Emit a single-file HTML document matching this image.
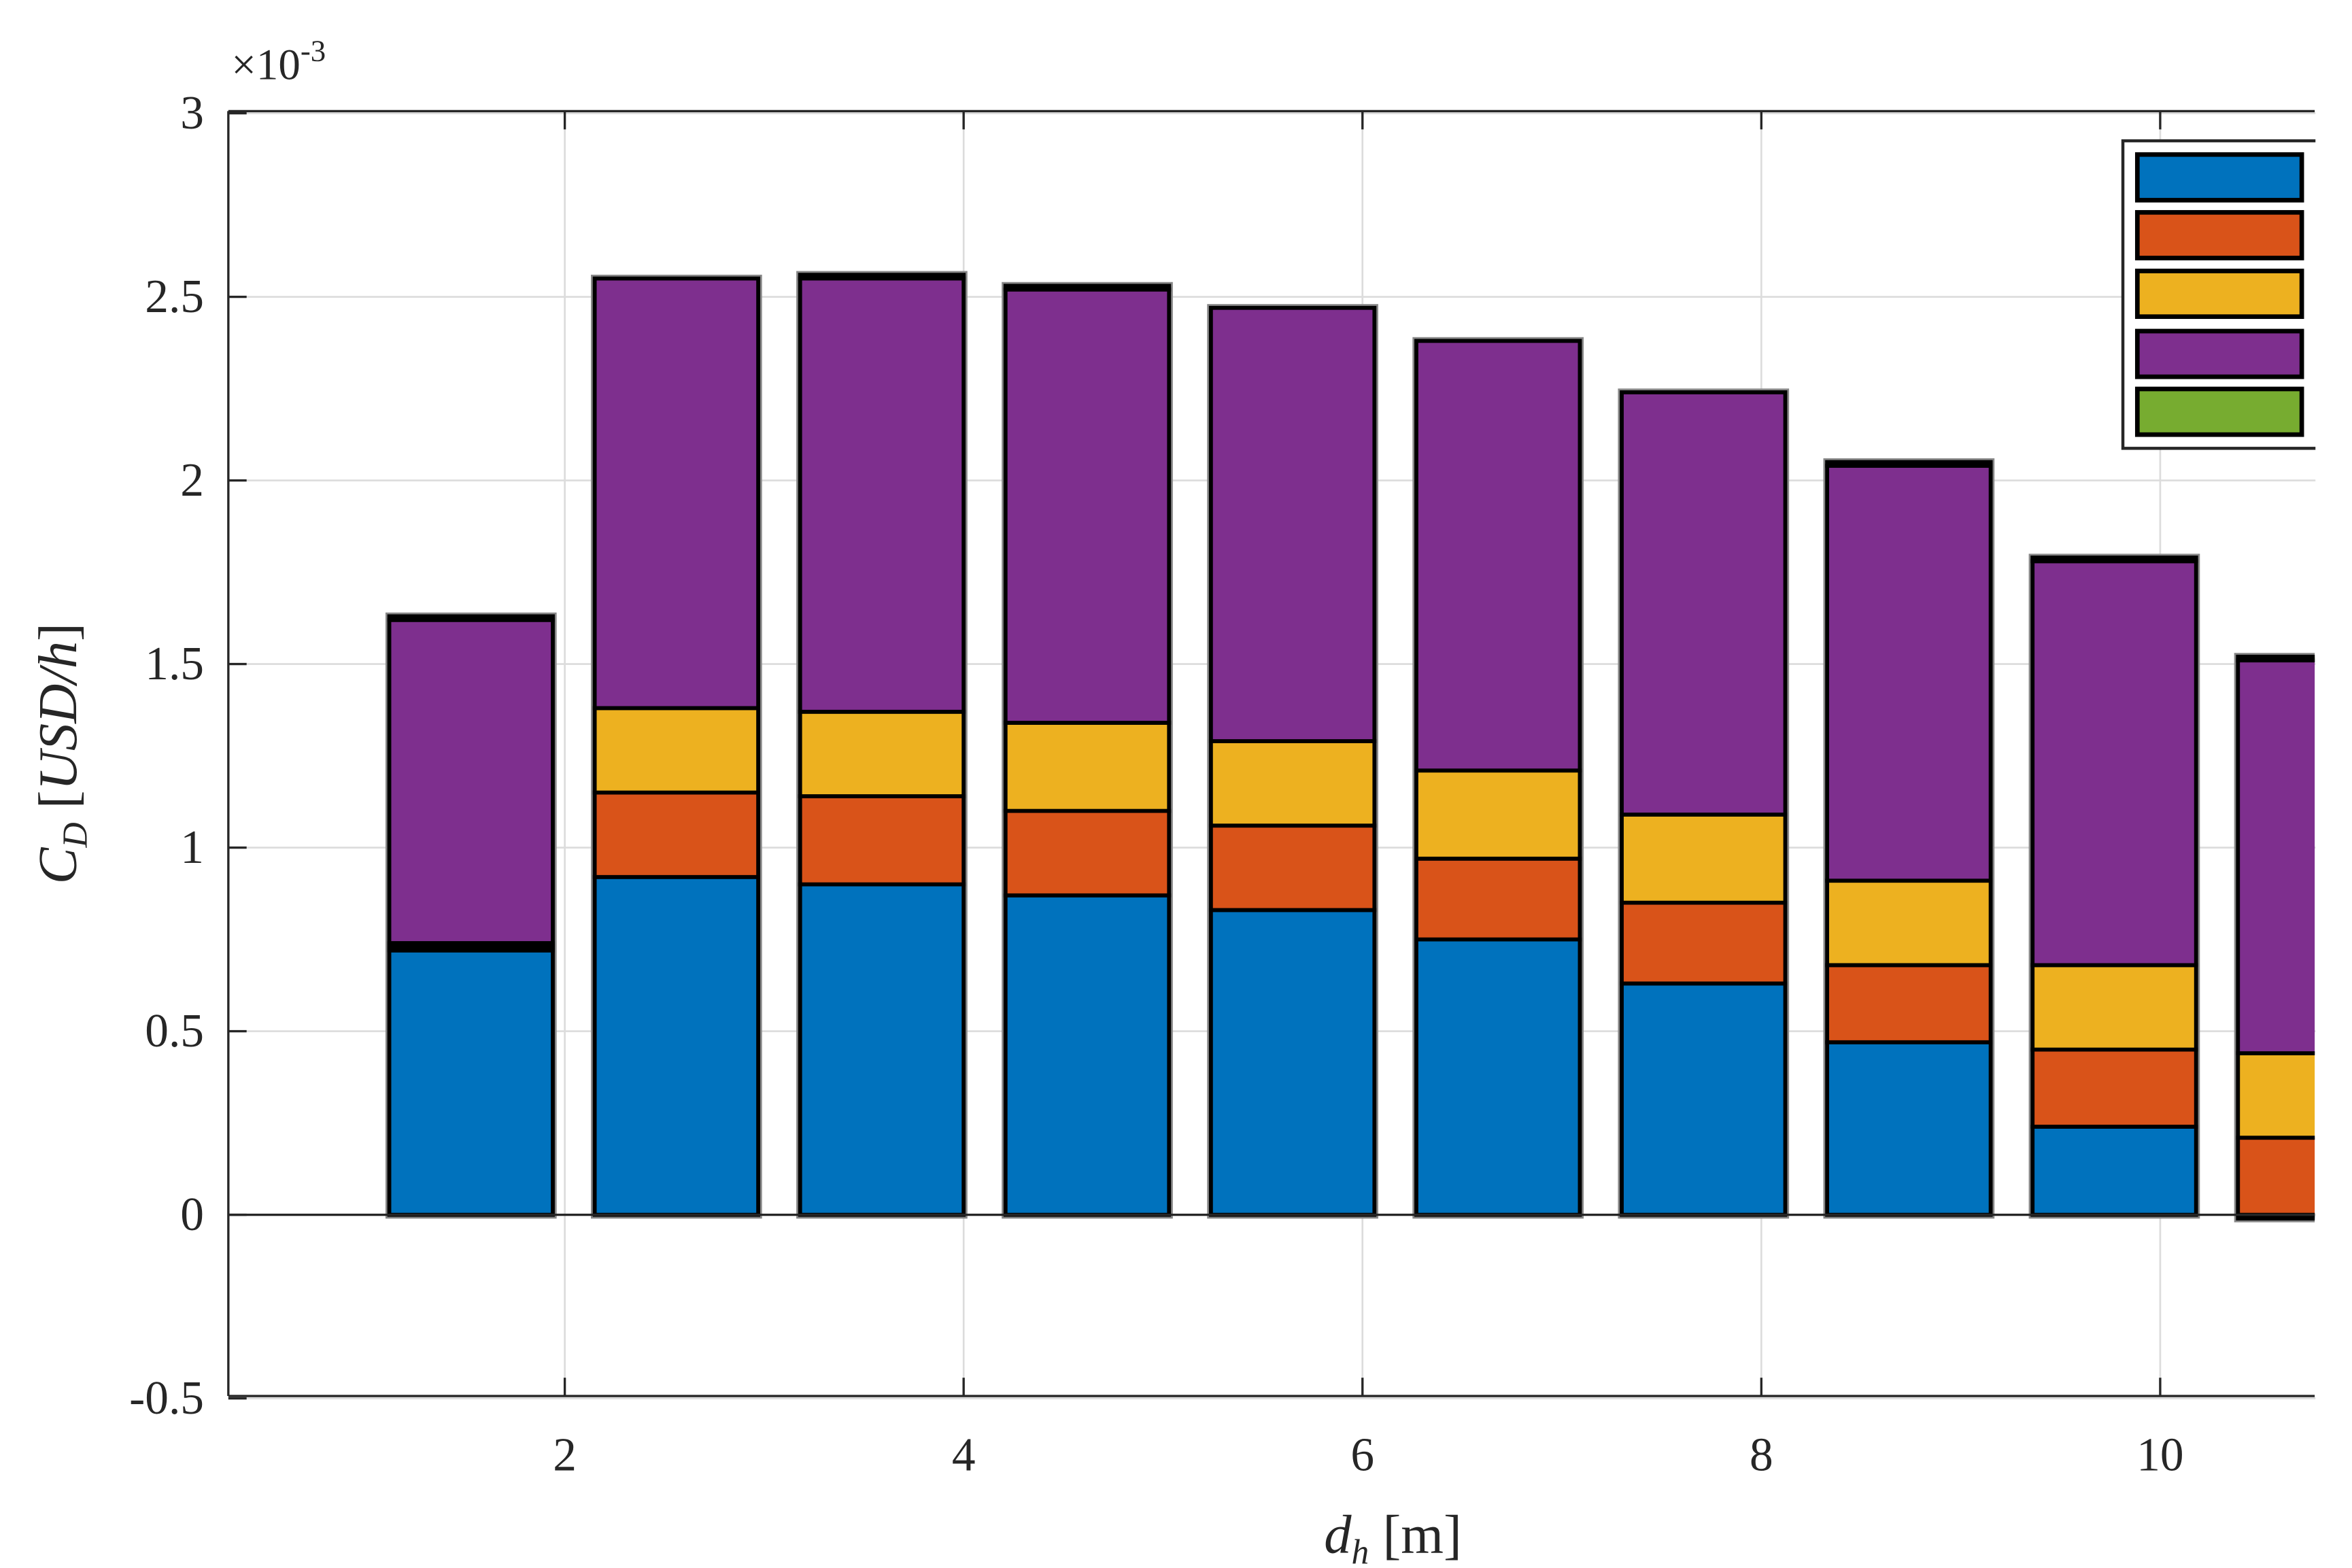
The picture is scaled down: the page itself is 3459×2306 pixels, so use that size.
<!DOCTYPE html>
<html><head><meta charset="utf-8"><style>
html,body{margin:0;padding:0;background:#fff;}
svg{display:block;}
text{font-family:"Liberation Serif",serif;fill:#262626;}
</style></head><body>
<svg id="chart" width="3459" height="2306" viewBox="0 0 1545 1030" xmlns="http://www.w3.org/2000/svg">
<defs><clipPath id="clip"><rect x="150" y="60" width="1370.5" height="870"/></clipPath></defs>
<g id="grid"></g>
<g id="bars" clip-path="url(#clip)"></g>
<g id="axes"></g>
<g id="legend"></g>
</svg>
<script>
const xPositions = [1.53, 2.56, 3.59, 4.62, 5.65, 6.68, 7.71, 8.74, 9.77, 10.8];
const blueVals   = [0.72, 0.92, 0.90, 0.87, 0.83, 0.75, 0.63, 0.47, 0.24, -0.01];
const redVals    = [0.01, 0.23, 0.24, 0.23, 0.23, 0.22, 0.22, 0.21, 0.21, 0.21];
const yellowVals = [0.01, 0.23, 0.23, 0.24, 0.23, 0.24, 0.24, 0.23, 0.23, 0.23];
const purpleVals = [0.88, 1.17, 1.18, 1.18, 1.18, 1.17, 1.15, 1.13, 1.10, 1.07];
const greenVals  = [0.01, 0.00, 0.01, 0.01, 0.00, 0.00, 0.00, 0.01, 0.01, 0.01];
const xTicks = [2, 4, 6, 8, 10];
const yTicks = [-0.5, 0, 0.5, 1, 1.5, 2, 2.5, 3];
const yTickLabels = ["-0.5", "0", "0.5", "1", "1.5", "2", "2.5", "3"];

const NS = "http://www.w3.org/2000/svg";
const X0 = 150, XR = 1520.5, YT = 73, YB = 917;
function xs(v){ return 240 + (v - 1) * 131; }
function ys(v){ return 798 - v * 241.2; }
function mk(tag, attrs, parent){ const e = document.createElementNS(NS, tag); for (const k in attrs) e.setAttribute(k, attrs[k]); parent.appendChild(e); return e; }
const grid = document.getElementById('grid'), bars = document.getElementById('bars'), axes = document.getElementById('axes'), legend = document.getElementById('legend');

xTicks.forEach(t => {
  const l = mk('line', {x1: xs(t), x2: xs(t), y1: YT, y2: YB, stroke: '#dcdcdc', 'stroke-width': 1.2}, grid);
  
  
});
yTicks.forEach(t => {
  const l = mk('line', {x1: X0, x2: 1545, y1: ys(t), y2: ys(t), stroke: '#dcdcdc', 'stroke-width': 1.2}, grid);
  
  
});

const series = [blueVals, redVals, yellowVals, purpleVals, greenVals];
const colors = ['#0072BD', '#D95319', '#EDB120', '#7E2F8E', '#77AC30'];
const names = ['blue', 'red', 'yellow', 'purple', 'green'];
const bw = 0.82 * 131;
xPositions.forEach((xp, i) => {
  const g = mk('g', {}, bars);
  
  
  let pos = 0, neg = 0;
  const segs = [];
  series.forEach((s, k) => {
    const v = s[i];
    let a, b;
    if (v >= 0) { a = pos; b = pos + v; pos = b; } else { a = neg + v; b = neg; neg = a; }
    segs.push([a, b, k]);
  });
  const lo = Math.min(0, neg), hi = pos;
  mk('rect', {x: xs(xp) - bw/2, y: ys(hi), width: bw, height: ys(lo) - ys(hi), fill: 'none', stroke: '#888', 'stroke-width': 5}, g);
  segs.forEach(([a, b, k]) => {
    const r = mk('rect', {x: xs(xp) - bw/2, y: ys(b), width: bw, height: Math.max(0, ys(a) - ys(b)), fill: colors[k], stroke: '#000', 'stroke-width': 2.6}, g);
    
    
  });
});

const zl = mk('line', {x1: X0, x2: XR, y1: ys(0), y2: ys(0), stroke: '#262626', 'stroke-width': 1.5}, axes);


mk('line', {x1: X0, x2: XR, y1: YT, y2: YT, stroke: '#262626', 'stroke-width': 1.5}, axes);
mk('line', {x1: X0, x2: XR, y1: YB, y2: YB, stroke: '#262626', 'stroke-width': 1.5}, axes);
mk('line', {x1: X0, x2: X0, y1: YT, y2: YB, stroke: '#262626', 'stroke-width': 1.5}, axes);
xTicks.forEach(t => {
  mk('line', {x1: xs(t), x2: xs(t), y1: YB, y2: YB - 12, stroke: '#262626', 'stroke-width': 1.5}, axes);
  mk('line', {x1: xs(t), x2: xs(t), y1: YT, y2: YT + 12, stroke: '#262626', 'stroke-width': 1.5}, axes);
  const tx = mk('text', {x: xs(t), y: 966, 'text-anchor': 'middle', 'font-size': 31}, axes);
  tx.textContent = String(t);
  
  
});
yTicks.forEach((t, i) => {
  mk('line', {x1: X0, x2: X0 + 12, y1: ys(t), y2: ys(t), stroke: '#262626', 'stroke-width': 1.5}, axes);
  const tx = mk('text', {x: 134, y: ys(t) + 10, 'text-anchor': 'end', 'font-size': 31}, axes);
  tx.textContent = yTickLabels[i];
  
  
});
</script>
<svg style="position:absolute;left:0;top:0" width="3459" height="2306" viewBox="0 0 1545 1030" xmlns="http://www.w3.org/2000/svg">
<text x="152" y="52" font-size="29" font-family="Liberation Serif, serif" fill="#262626">×10<tspan font-size="20" dy="-12">-3</tspan></text>
<text transform="translate(50,495) rotate(-90)" text-anchor="middle" font-size="36" font-family="Liberation Serif, serif" fill="#262626"><tspan font-style="italic">C</tspan><tspan font-style="italic" font-size="23" dy="7">D</tspan><tspan dy="-7"> [</tspan><tspan font-style="italic">USD/h</tspan>]</text>
<text x="915" y="1020" text-anchor="middle" font-size="36" font-family="Liberation Serif, serif" fill="#262626"><tspan font-style="italic">d</tspan><tspan font-style="italic" font-size="23" dy="7">h</tspan><tspan dy="-7"> [m]</tspan></text>
<g>
<rect x="1394.5" y="92.5" width="160" height="202" fill="#fff" stroke="#262626" stroke-width="2"/>
<rect x="1404" y="101.5" width="108" height="30" fill="#0072BD" stroke="#000" stroke-width="3"/>
<rect x="1404" y="139.5" width="108" height="30" fill="#D95319" stroke="#000" stroke-width="3"/>
<rect x="1404" y="178" width="108" height="30" fill="#EDB120" stroke="#000" stroke-width="3"/>
<rect x="1404" y="217.5" width="108" height="30" fill="#7E2F8E" stroke="#000" stroke-width="3"/>
<rect x="1404" y="255.5" width="108" height="30" fill="#77AC30" stroke="#000" stroke-width="3"/>
</g>
<rect x="1521" y="0" width="24" height="1030" fill="#fff"/>
</svg>
</body></html>
